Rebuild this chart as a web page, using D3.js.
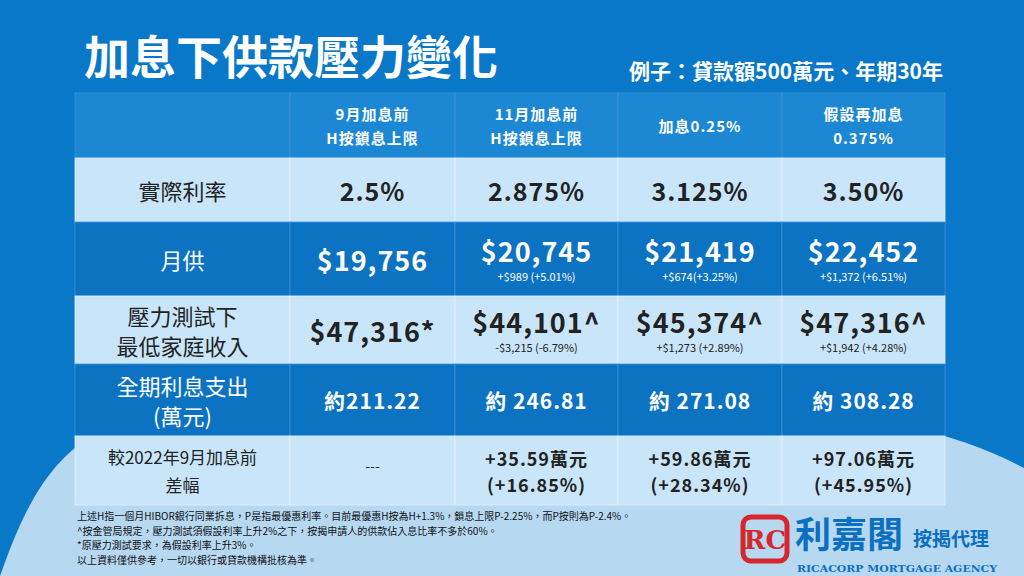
<!DOCTYPE html>
<html><head><meta charset="utf-8">
<script src="https://cdn.jsdelivr.net/npm/d3@7/dist/d3.min.js"></script>
<style>body{margin:0;background:#0a78c8}svg{display:block;font-family:"Noto Sans CJK TC","Noto Sans",sans-serif}</style>
</head><body><div id="chart"></div>
<script>
const title = "加息下供款壓力變化";
const subtitle = "例子：貸款額500萬元、年期30年";
const headers = [[], ["9月加息前", "H按鎖息上限"], ["11月加息前", "H按鎖息上限"], ["加息0.25%"], ["假設再加息", "0.375%"]];
const rowLabels = [["實際利率"], ["月供"], ["壓力測試下", "最低家庭收入"], ["全期利息支出", "(萬元)"], ["較2022年9月加息前", "差幅"]];
const rates = ["2.5%", "2.875%", "3.125%", "3.50%"];
const payments = ["$19,756", "$20,745", "$21,419", "$22,452"];
const paymentDiff = ["", "+$989 (+5.01%)", "+$674(+3.25%)", "+$1,372 (+6.51%)"];
const incomes = ["$47,316*", "$44,101^", "$45,374^", "$47,316^"];
const incomeDiff = ["", "-$3,215 (-6.79%)", "+$1,273 (+2.89%)", "+$1,942 (+4.28%)"];
const interest = ["約211.22", "約 246.81", "約 271.08", "約 308.28"];
const gapMain = ["---", "+35.59萬元", "+59.86萬元", "+97.06萬元"];
const gapSub = ["", "(+16.85%)", "(+28.34%)", "(+45.95%)"];
const notes = [
  "上述H指一個月HIBOR銀行同業拆息，P是指最優惠利率。目前最優惠H按為H+1.3%，鎖息上限P-2.25%，而P按則為P-2.4%。",
  "^按金管局規定，壓力測試須假設利率上升2%之下，按揭申請人的供款佔入息比率不多於60%。",
  " *原壓力測試要求，為假設利率上升3%。",
  "以上資料僅供參考，一切以銀行或貸款機構批核為準。"
];

const W = 1024, H = 576;
const svg = d3.select("#chart").append("svg").attr("width", W).attr("height", H);
svg.append("rect").attr("width", W).attr("height", H).attr("fill", "#0a78c8");
svg.append("path").attr("fill", "#b6d8f1")
  .attr("d", "M0,576 C25,505 50,455 110,425 L900,425 C950,435 990,450 1024,468 L1024,576 Z");

svg.append("text").attr("x", 84).attr("y", 74).attr("fill", "#fff")
  .attr("font-size", 46).attr("font-weight", 700).text(title);
svg.append("text").attr("x", 943).attr("y", 79).attr("text-anchor", "end").attr("fill", "#fff")
  .attr("font-size", 21).attr("font-weight", 700).text(subtitle);

const x = d3.scaleOrdinal().domain([0, 1, 2, 3, 4]).range([75, 290, 455, 618, 782]);
const colW = [215, 165, 163, 164, 163];
const rowY = [93, 158, 222, 296, 364, 436, 505];
const rowFill = ["#1c88d4", "#c8e5fa", "#0c73c3", "#c8e5fa", "#0c73c3", "#c8e5fa"];
const rowText = ["#fff", "#222", "#fff", "#222", "#fff", "#222"];

const g = svg.append("g");
rowFill.forEach((f, r) => {
  d3.range(5).forEach(c => {
    g.append("rect").attr("x", x(c)).attr("y", rowY[r]).attr("width", colW[c])
      .attr("height", rowY[r + 1] - rowY[r]).attr("fill", f)
      .attr("stroke", r % 2 ? "#e2f1fc" : "#3b95d6").attr("stroke-width", 0.8);
  });
});

function lines(c, r, arr, size, weight, yc, gap, ls) {
  const cx = x(c) + colW[c] / 2;
  const n = arr.length;
  arr.forEach((t, i) => {
    g.append("text").attr("x", cx).attr("y", yc + (i - (n - 1) / 2) * gap)
      .attr("dominant-baseline", "central").attr("text-anchor", "middle")
      .attr("letter-spacing", ls || 0)
      .attr("fill", rowText[r]).attr("font-size", size).attr("font-weight", weight).text(t);
  });
}
const mid = r => (rowY[r] + rowY[r + 1]) / 2;

headers.forEach((h, c) => lines(c, 0, h, 15, 700, mid(0), 24, 1));
rowLabels.forEach((l, i) => lines(0, i + 1, l, i === 4 ? 17 : 22, 400, mid(i + 1), i === 4 ? 28 : 30));
d3.range(4).forEach(i => {
  const c = i + 1;
  lines(c, 1, [rates[i]], 25, 700, mid(1), 0, 1);
  if (paymentDiff[i]) {
    lines(c, 2, [payments[i]], 27, 700, mid(2) - 9, 0, 1);
    lines(c, 2, [paymentDiff[i]], 11, 400, mid(2) + 17, 0);
  } else lines(c, 2, [payments[i]], 27, 700, mid(2), 0, 1);
  if (incomeDiff[i]) {
    lines(c, 3, [incomes[i]], 27, 700, mid(3) - 9, 0, 1);
    lines(c, 3, [incomeDiff[i]], 11, 400, mid(3) + 17, 0);
  } else lines(c, 3, [incomes[i]], 27, 700, mid(3), 0, 1);
  lines(c, 4, [interest[i]], 21, 700, mid(4), 0, 1);
  if (gapSub[i]) lines(c, 5, [gapMain[i], gapSub[i]], 18, 700, mid(5), 26, 1);
  else lines(c, 5, [gapMain[i]], 14, 400, mid(5) - 6, 0);
});

notes.forEach((t, i) => svg.append("text").attr("x", 77).attr("y", 520 + i * 14.5)
  .attr("fill", "#111").attr("font-size", 10).text(t));

// logo
const lg = svg.append("g").attr("transform", "translate(743,517)");
lg.append("rect").attr("width", 44).attr("height", 44).attr("rx", 8).attr("fill", "none")
  .attr("stroke", "#d7262d").attr("stroke-width", 5);
lg.append("text").attr("x", 22).attr("y", 32).attr("text-anchor", "middle").attr("fill", "#d7262d")
  .attr("font-size", 26).attr("font-weight", 700).attr("font-family", "DejaVu Serif").text("RC");
lg.append("text").attr("x", 52).attr("y", 31).attr("fill", "#0d6fc0")
  .attr("font-size", 36).attr("font-weight", 700).text("利嘉閣");
lg.append("text").attr("x", 170).attr("y", 29).attr("fill", "#0d6fc0")
  .attr("font-size", 19).attr("font-weight", 700).text("按揭代理");
lg.append("text").attr("x", 54).attr("y", 55).attr("fill", "#0d6fc0")
  .attr("font-size", 10).attr("font-weight", 700).attr("font-family", "DejaVu Serif")
  .attr("textLength", 200).attr("lengthAdjust", "spacingAndGlyphs").text("RICACORP MORTGAGE AGENCY");
</script></body></html>
